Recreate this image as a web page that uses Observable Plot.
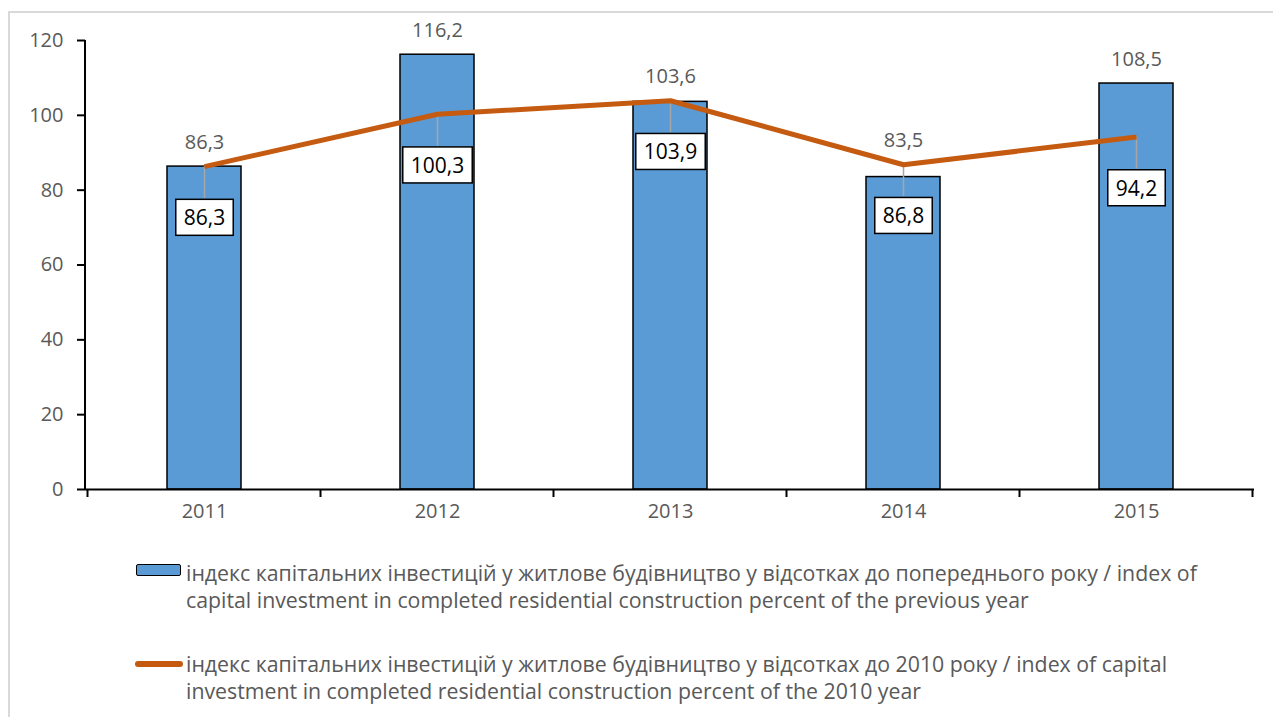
<!DOCTYPE html>
<html><head><meta charset="utf-8">
<script src="https://cdn.jsdelivr.net/npm/d3@7"></script>
<script src="https://cdn.jsdelivr.net/npm/@observablehq/plot@0.6"></script>
<style>
body{margin:0;background:#fff;font-family:"Open Sans",sans-serif;}
#frame{position:absolute;left:8px;top:11px;width:1400px;height:800px;border-left:2px solid #d9d9d9;border-top:2px solid #d9d9d9;}
#chart{position:absolute;left:0;top:0;}
.txt{position:absolute;left:186px;color:#595959;font-size:21.3px;line-height:27px;white-space:nowrap;}
.sw-bar{position:absolute;left:136px;top:564px;width:43px;height:10px;background:#5B9BD5;border:1.5px solid #000;border-radius:2px;}
.sw-line{position:absolute;left:135px;top:661px;width:48px;height:6px;background:#C55A11;border-radius:3px;}
</style></head><body>
<div id="frame"></div>
<div id="chart"></div>
<div class="sw-bar"></div>
<div class="txt" id="leg1" style="top:559px"></div>
<div class="sw-line"></div>
<div class="txt" id="leg2" style="top:650px"></div>
<script>
const years = ["2011", "2012", "2013", "2014", "2015"];
const prevYearIndex = [86.3, 116.2, 103.6, 83.5, 108.5];
const base2010Index = [86.3, 100.3, 103.9, 86.8, 94.2];
const yTicks = [0, 20, 40, 60, 80, 100, 120];
const legendBarText = [
  "індекс капітальних інвестицій у житлове будівництво у відсотках до попереднього року / index of",
  "capital investment in completed residential construction percent of the previous year"
];
const legendLineText = [
  "індекс капітальних інвестицій у житлове будівництво у відсотках до 2010 року / index of capital",
  "investment in completed residential construction percent of the 2010 year"
];

const fmt = v => v.toFixed(1).replace(".", ",");
const data = years.map((y, i) => ({year: y, prev: prevYearIndex[i], base: base2010Index[i]}));

const chart = Plot.plot({
  width: 1273, height: 530,
  marginLeft: 85, marginRight: 19, marginTop: 40, marginBottom: 41,
  style: {fontFamily: "'Open Sans', sans-serif", fontSize: "20px", color: "#595959", background: "transparent", overflow: "visible"},
  x: {domain: years, paddingInner: 0.684, paddingOuter: 0.342, label: null},
  y: {domain: [0, 120], label: null},
  marks: [
    Plot.barY(data, {x: "year", y: "prev", fill: "#5B9BD5", stroke: "#000", strokeWidth: 1.5}),
    Plot.ruleY([0], {stroke: "#000", strokeWidth: 2}),
    Plot.axisY({ticks: yTicks, tickSize: 8, tickPadding: 14, stroke: "#000", strokeWidth: 2, fill: "#595959", fontSize: 20}),
    Plot.axisX({tickSize: 0, tickPadding: 14, fill: "#595959", fontSize: 20}),
    Plot.ruleX(data, {x: "year", y1: "base", y2: "base", insetBottom: -32, stroke: "#A6A6A6", strokeWidth: 1.5}),
    Plot.line(data, {x: "year", y: "base", stroke: "#C55A11", strokeWidth: 5, strokeLinejoin: "miter", strokeLinecap: "butt"}),
    Plot.text(data, {x: "year", y: d => Math.max(d.prev, d.base), text: d => fmt(d.prev), dy: -24, fill: "#595959", fontSize: 20}),
    Plot.text(data, {x: "year", y: "base", text: d => fmt(d.base), dy: 52, fill: "#000", fontSize: 21})
  ]
});
document.getElementById("chart").appendChild(chart);

// post-render: tick label size, y axis line, category boundary ticks, label boxes
const svg = d3.select(chart);
svg.selectAll('g[aria-label*="tick label"]').attr("font-size", 20).style("font-size", "20px");
svg.selectAll('g[aria-label*="tick label"] text').attr("font-size", 20).style("font-size", "20px");
const xs = chart.scale("x"), ys = chart.scale("y");
const y0 = ys.apply(0), yTop = ys.apply(120);
const x0 = xs.range[0];
svg.append("line").attr("x1", x0).attr("x2", x0).attr("y1", yTop).attr("y2", y0)
  .attr("stroke", "#000").attr("stroke-width", 2);
const bounds = years.map(y => xs.apply(y) + xs.bandwidth / 2 - xs.step / 2);
bounds.push(bounds[bounds.length - 1] + xs.step);
bounds.forEach(b => svg.append("line").attr("x1", b).attr("x2", b).attr("y1", y0).attr("y2", y0 + 8)
  .attr("stroke", "#000").attr("stroke-width", 2));
svg.selectAll("text").filter(function() {
  const g = this.parentNode;
  return g && g.getAttribute && g.getAttribute("fill") === "#000";
}).each(function() {
  const bb = this.getBBox();
  const r = document.createElementNS("http://www.w3.org/2000/svg", "rect");
  r.setAttribute("x", bb.x - 8); r.setAttribute("y", bb.y - 4);
  r.setAttribute("width", bb.width + 16); r.setAttribute("height", bb.height + 8);
  r.setAttribute("fill", "#fff"); r.setAttribute("stroke", "#000"); r.setAttribute("stroke-width", 1.5);
  if (this.getAttribute("transform")) r.setAttribute("transform", this.getAttribute("transform"));
  this.parentNode.insertBefore(r, this);
});

document.getElementById("leg1").innerHTML = legendBarText.join("<br>");
document.getElementById("leg2").innerHTML = legendLineText.join("<br>");
</script>
</body></html>
